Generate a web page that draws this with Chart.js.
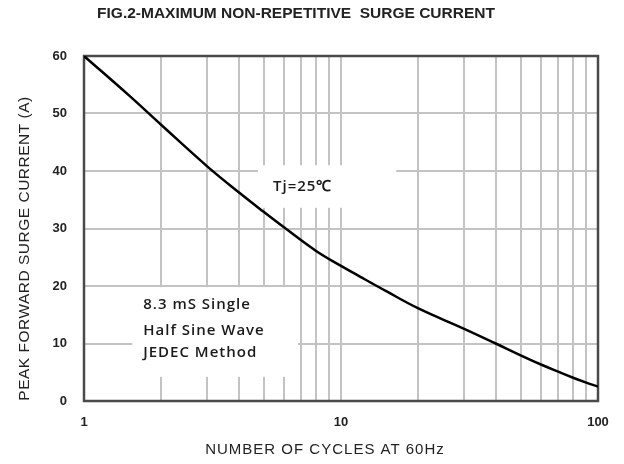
<!DOCTYPE html>
<html><head><meta charset="utf-8">
<script src="https://cdn.jsdelivr.net/npm/chart.js@4"></script>
<style>html,body{margin:0;padding:0;background:#fff;}#wrap{width:624px;height:464px;}</style>
</head><body><div id="wrap"><canvas id="c" width="624" height="464"></canvas></div>
<script>
const titleText = 'FIG.2-MAXIMUM NON-REPETITIVE  SURGE CURRENT';
const xAxisTitle = 'NUMBER OF CYCLES AT 60Hz';
const yAxisTitle = 'PEAK FORWARD SURGE CURRENT (A)';
const cycles = [1, 1.5, 2, 3, 4, 5, 6, 8, 10, 12, 15, 20, 30, 40, 50, 60, 70, 80, 90, 100];
const surgeCurrent = [60, 53.1, 48, 40.9, 36.3, 32.9, 30.2, 26.1, 23.5, 21.5, 19.1, 16.1, 12.6, 10.0, 7.95, 6.35, 5.1, 4.05, 3.2, 2.5];
const xGridValues = [1,2,3,4,5,6,7,8,9,10,20,30,40,50,60,70,80,90,100];
const xLabelValues = [1, 10, 100];
const noteTj = 'Tj=25\u2103';
const noteLines = ['8.3 mS Single', 'Half Sine Wave', 'JEDEC Method'];

// annotation placement in data units
const notes = {
  tj: { box: [4.75, 16.4, 33.6, 41.0], textX: 5.44, textY: [37.2], lines: [noteTj] },
  method: { box: [1.54, 6.8, 4.2, 19.8], textX: 1.70, textY: [16.7, 12.3, 8.35], lines: noteLines }
};

const decor = {
  id: 'decor',
  beforeDatasetsDraw(chart) {
    const ctx = chart.ctx, xs = chart.scales.x, ys = chart.scales.y, a = chart.chartArea;
    ctx.save();
    Object.values(notes).forEach(n => {
      const x0 = xs.getPixelForValue(n.box[0]), x1 = xs.getPixelForValue(n.box[1]);
      const y0 = ys.getPixelForValue(n.box[3]), y1 = ys.getPixelForValue(n.box[2]);
      ctx.fillStyle = '#ffffff';
      ctx.fillRect(x0, y0, x1 - x0, y1 - y0);
      ctx.fillStyle = '#1a1a1a';
      ctx.font = '600 15px "Open Sans"';
      ctx.letterSpacing = '1px';
      ctx.textAlign = 'left';
      ctx.textBaseline = 'middle';
      n.lines.forEach((t, i) => ctx.fillText(t, xs.getPixelForValue(n.textX), ys.getPixelForValue(n.textY[i])));
    });
    ctx.letterSpacing = '0px';
    ctx.strokeStyle = '#4a4a4a';
    ctx.lineWidth = 2.5;
    ctx.strokeRect(a.left, a.top, a.right - a.left, a.bottom - a.top);
    ctx.restore();
  },
  afterDraw(chart) {
    const ctx = chart.ctx, a = chart.chartArea;
    ctx.save();
    ctx.fillStyle = '#222';
    ctx.textAlign = 'center';
    ctx.textBaseline = 'middle';
    ctx.font = 'bold 15.5px "Liberation Sans"';
    ctx.fillText(titleText, 296, 14);
    ctx.font = '15px "Liberation Sans"';
    ctx.letterSpacing = '1px';
    ctx.fillText(xAxisTitle, 325, 450);
    ctx.letterSpacing = '0.5px';
    ctx.translate(25, (a.top + a.bottom) / 2 + 20);
    ctx.rotate(-Math.PI / 2);
    ctx.font = '15.5px "Liberation Sans"';
    ctx.fillText(yAxisTitle, 0, 0);
    ctx.restore();
  }
};

new Chart(document.getElementById('c'), {
  type: 'line',
  data: {
    datasets: [{
      data: cycles.map((c, i) => ({ x: c, y: surgeCurrent[i] })),
      borderColor: '#000',
      borderWidth: 2.5,
      pointRadius: 0,
      tension: 0.4,
      fill: false
    }]
  },
  options: {
    responsive: false,
    animation: false,
    devicePixelRatio: 1,
    layout: { padding: { top: 56, right: 26, left: 0, bottom: 0 } },
    plugins: { legend: { display: false }, tooltip: { enabled: false }, title: { display: false } },
    scales: {
      x: {
        type: 'logarithmic', min: 1, max: 100,
        afterBuildTicks: s => { s.ticks = xGridValues.map(v => ({ value: v })); },
        afterFit: s => { s.height = 63; },
        grid: { color: '#c3c3c3', lineWidth: 2, drawTicks: false },
        border: { display: false },
        ticks: {
          autoSkip: false, maxRotation: 0, padding: 14,
          color: '#222', font: { family: 'Liberation Sans', size: 13, weight: 'bold' },
          callback: v => xLabelValues.includes(v) ? String(v) : ''
        }
      },
      y: {
        min: 0, max: 60,
        afterFit: s => { s.width = 84; },
        grid: { color: '#c3c3c3', lineWidth: 2, drawTicks: false },
        border: { display: false },
        ticks: {
          stepSize: 10, padding: 17,
          color: '#222', font: { family: 'Liberation Sans', size: 13, weight: 'bold' }
        }
      }
    }
  },
  plugins: [decor]
});
</script>
</body></html>
